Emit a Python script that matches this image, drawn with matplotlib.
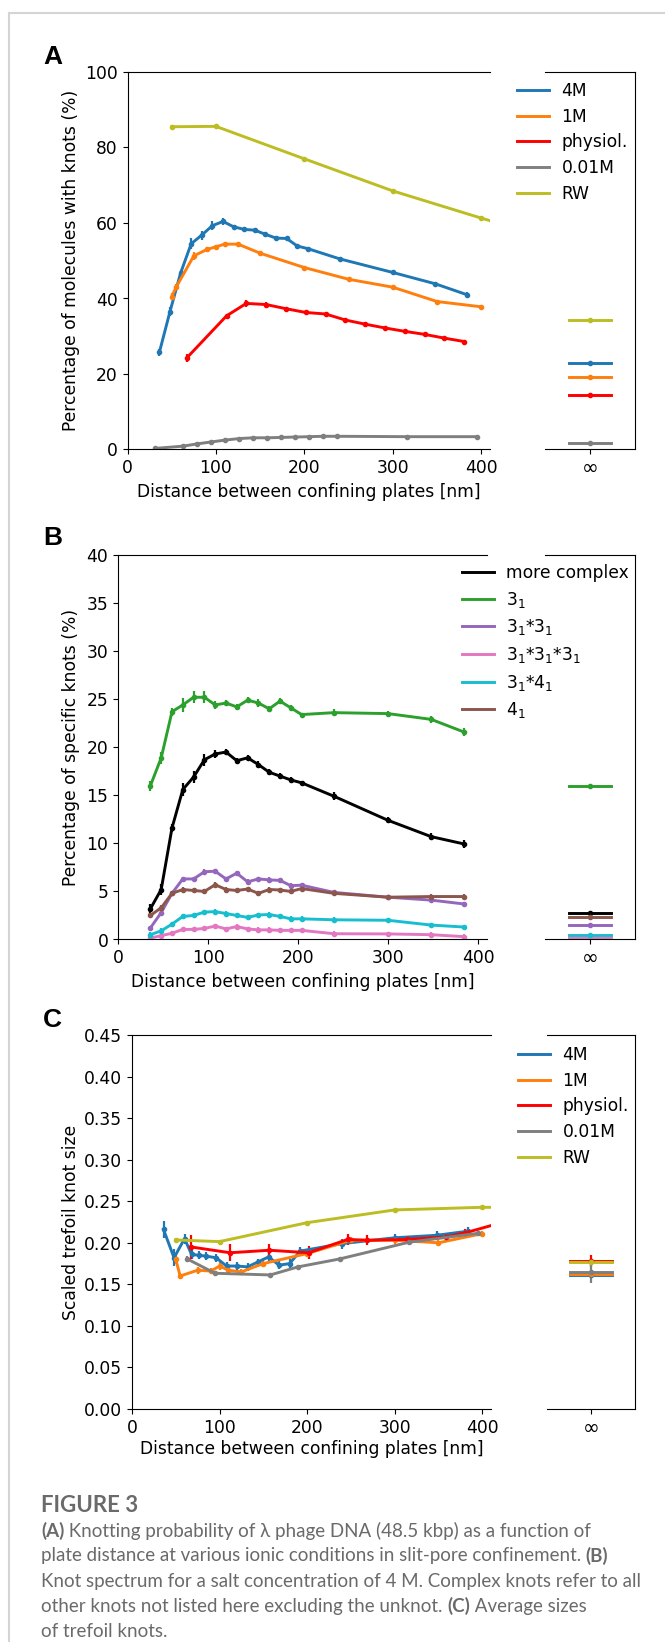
import numpy as np
import matplotlib.pyplot as plt
from matplotlib.lines import Line2D

W, H = 665, 1642

# ---------------- panel A: knotting probability ----------------
a_4m_x = [36, 48, 60, 72, 84, 96, 108, 120, 132, 144, 156, 168, 180, 192, 204, 240, 300, 348, 384]
a_4m_y = [25.7, 36.5, 46.7, 54.5, 56.8, 59.3, 60.4, 59.0, 58.3, 58.1, 57.0, 56.0, 55.9, 53.9, 53.2, 50.5, 46.9, 43.9, 41.0]
a_4m_e = [0.8, 1.2, 0.9, 1.4, 1.2, 1.1, 1.0, 0.6, 0.5, 0.5, 0.5, 0.5, 0.5, 0.5, 0.4, 0.4, 0.4, 0.4, 0.6]
a_1m_x = [50, 55, 75, 90, 100, 110, 125, 150, 200, 250, 300, 350, 400]
a_1m_y = [40.5, 43.0, 51.3, 53.0, 53.7, 54.4, 54.4, 52.0, 48.2, 45.1, 43.0, 39.2, 37.8]
a_1m_e = [1.0, 0.8, 1.0, 0.6, 0.6, 0.5, 0.5, 0.5, 0.4, 0.4, 0.4, 0.4, 0.4]
a_ph_x = [67.2, 112, 134.4, 156.8, 179.2, 201.6, 224, 246.4, 268.8, 291.2, 313.6, 336, 358.4, 380.8]
a_ph_y = [24.3, 35.4, 38.7, 38.4, 37.3, 36.3, 35.9, 34.3, 33.2, 32.2, 31.3, 30.5, 29.5, 28.6]
a_ph_e = [1.0, 0.6, 0.9, 0.7, 0.5, 0.5, 0.5, 0.5, 0.5, 0.4, 0.4, 0.4, 0.4, 0.4]
a_lo_x = [31.6, 63.2, 79, 94.8, 110.6, 126.4, 142.2, 158, 173.8, 189.6, 205.4, 221.2, 237, 316, 395]
a_lo_y = [0.3, 0.9, 1.5, 2.0, 2.5, 2.9, 3.1, 3.1, 3.2, 3.3, 3.4, 3.5, 3.5, 3.4, 3.4]
a_lo_e = [0.2] * 15
a_rw_x = [50, 100, 200, 300, 400, 500]
a_rw_y = [85.5, 85.6, 77.0, 68.5, 61.3, 54.5]
a_rw_e = [0.2] * 6
a_inf = [22.9, 19.3, 14.5, 1.6, 34.2]
a_inf_e = [0.4, 0.4, 0.4, 0.3, 0.4]

salt_labels = ['4M', '1M', 'physiol.', '0.01M', 'RW']
salt_colors = ['#1f77b4', '#ff7f0e', 'red', '#7f7f7f', '#bcbd22']

# ---------------- panel B: knot spectrum (4 M) ----------------
b_x = [36, 48, 60, 72, 84, 96, 108, 120, 132, 144, 156, 168, 180, 192, 204, 240, 300, 348, 384]
b_complex = [3.2, 5.2, 11.6, 15.6, 16.9, 18.7, 19.3, 19.5, 18.6, 18.9, 18.2, 17.4, 17.0, 16.6, 16.3, 14.9, 12.4, 10.7, 9.95]
b_31 = [16.0, 18.9, 23.7, 24.4, 25.2, 25.2, 24.4, 24.6, 24.2, 24.9, 24.6, 24.0, 24.8, 24.1, 23.4, 23.6, 23.5, 22.9, 21.6]
b_3131 = [1.2, 2.8, 4.8, 6.3, 6.3, 7.05, 7.1, 6.3, 6.9, 6.0, 6.3, 6.2, 6.15, 5.6, 5.65, 4.9, 4.4, 4.1, 3.7]
b_313131 = [0.15, 0.4, 0.65, 1.05, 1.05, 1.15, 1.4, 1.1, 1.35, 1.1, 1.0, 1.0, 0.95, 0.95, 0.95, 0.6, 0.58, 0.5, 0.3]
b_3141 = [0.5, 0.9, 1.6, 2.4, 2.5, 2.85, 2.9, 2.7, 2.5, 2.3, 2.55, 2.6, 2.4, 2.15, 2.15, 2.05, 2.0, 1.5, 1.3]
b_41 = [2.5, 3.3, 4.8, 5.2, 5.1, 5.0, 5.7, 5.2, 5.1, 5.25, 4.8, 5.2, 5.15, 5.0, 5.3, 4.8, 4.4, 4.47, 4.47]
b_err_big = [0.5, 0.6, 0.4, 0.7, 0.6, 0.6, 0.4, 0.3, 0.3, 0.3, 0.4, 0.3, 0.3, 0.3, 0.2, 0.4, 0.3, 0.4, 0.4]
b_err_small = [0.25] * 19
b_inf = [2.76, 16.0, 1.55, 0.2, 0.45, 2.33]
b_inf_e = [0.2, 0.2, 0.1, 0.05, 0.1, 0.1]
knot_labels = ['more complex', '$3_1$', '$3_1$*$3_1$', '$3_1$*$3_1$*$3_1$', '$3_1$*$4_1$', '$4_1$']
knot_colors = ['black', '#2ca02c', '#9467bd', '#e377c2', '#17becf', '#8c564b']

# ---------------- panel C: trefoil size ----------------
c_4m_x = [36, 48, 60, 68, 76, 84, 96, 108, 120, 132, 144, 156, 168, 180, 192, 240, 300, 348, 384]
c_4m_y = [0.216, 0.182, 0.205, 0.186, 0.185, 0.184, 0.182, 0.172, 0.172, 0.171, 0.177, 0.183, 0.173, 0.175, 0.190, 0.199, 0.206, 0.209, 0.214]
c_4m_e = [0.010, 0.010, 0.006, 0.005, 0.005, 0.005, 0.005, 0.005, 0.005, 0.005, 0.004, 0.005, 0.005, 0.005, 0.005, 0.006, 0.005, 0.005, 0.005]
c_1m_x = [50, 55, 75, 90, 100, 110, 125, 150, 200, 250, 300, 350, 400]
c_1m_y = [0.180, 0.160, 0.167, 0.166, 0.172, 0.167, 0.165, 0.175, 0.187, 0.203, 0.203, 0.200, 0.211]
c_1m_e = [0.006, 0.004, 0.004, 0.004, 0.005, 0.004, 0.004, 0.004, 0.004, 0.004, 0.004, 0.004, 0.003]
c_ph_x = [67.2, 112, 156.8, 201.6, 246.4, 268.8, 313.6, 358.4, 380.8, 448]
c_ph_y = [0.195, 0.188, 0.191, 0.188, 0.204, 0.203, 0.204, 0.207, 0.212, 0.232]
c_ph_e = [0.014, 0.010, 0.008, 0.008, 0.007, 0.006, 0.004, 0.004, 0.004, 0.004]
c_lo_x = [63.2, 94.8, 158, 189.6, 237, 316, 395]
c_lo_y = [0.1805, 0.1633, 0.1613, 0.171, 0.1805, 0.2006, 0.2114]
c_lo_e = [0.004, 0.002, 0.002, 0.002, 0.002, 0.003, 0.003]
c_rw_x = [50, 100, 200, 300, 400, 500]
c_rw_y = [0.2034, 0.2014, 0.2242, 0.2395, 0.2427, 0.2420]
c_rw_e = [0.001] * 6
c_inf = [0.161, 0.162, 0.178, 0.1645, 0.177]
c_inf_e = [0.003, 0.002, 0.007, 0.013, 0.002]

xlabel = 'Distance between confining plates [nm]'
caption = [
    [('(A)', True), (' Knotting probability of \u03bb phage DNA (48.5 kbp) as a function of', False)],
    [('plate distance at various ionic conditions in slit-pore confinement. ', False), ('(B)', True)],
    [('Knot spectrum for a salt concentration of 4 M. Complex knots refer to all', False)],
    [('other knots not listed here excluding the unknot. ', False), ('(C)', True), (' Average sizes', False)],
    [('of trefoil knots.', False)],
]

plt.rcParams['font.size'] = 12.3
plt.rcParams['font.family'] = 'DejaVu Sans'

fig = plt.figure(figsize=(W / 100, H / 100), dpi=100)


def box(l, r, t, b):
    return fig.add_axes([l / W, 1 - b / H, (r - l) / W, (b - t) / H])


def panel(l, r, top, bottom, rl, rr):
    ax = box(l, r, top, bottom)
    axr = box(rl, rr, top, bottom)
    ax.spines['right'].set_visible(False)
    axr.spines['left'].set_visible(False)
    axr.set_yticks([])
    axr.set_xlim(-1, 1)
    axr.set_xticks([0])
    axr.set_xticklabels(['\u221e'], fontsize=14.5)
    ax.set_xlim(0, 410)
    ax.set_xticks([0, 100, 200, 300, 400])
    # y label centred at x ~ 70 px
    ax.yaxis.set_label_coords((80 - l) / (r - l), 0.5)
    return ax, axr


def series(ax, axr, x, y, e, inf, inf_e, c):
    ax.errorbar(x, y, yerr=e, color=c, marker='.', ms=6, lw=2.1, elinewidth=1.6, capsize=0)
    axr.plot([-0.47, 0.47], [inf, inf], color=c, lw=2.1)
    axr.errorbar([0], [inf], yerr=[inf_e], color=c, marker='.', ms=6, elinewidth=1.6, capsize=0)


# panel A
axA, axAr = panel(127.5, 490, 72, 449.5, 545, 635)
for x, y, e, inf, ie, c in zip([a_4m_x, a_1m_x, a_ph_x, a_lo_x, a_rw_x],
                               [a_4m_y, a_1m_y, a_ph_y, a_lo_y, a_rw_y],
                               [a_4m_e, a_1m_e, a_ph_e, a_lo_e, a_rw_e],
                               a_inf, a_inf_e, salt_colors):
    series(axA, axAr, x, y, e, inf, ie, c)
axA.set_ylim(0, 100)
axAr.set_ylim(0, 100)
axA.set_ylabel('Percentage of molecules with knots (%)')
axA.set_xlabel(xlabel)

# panel B
axB, axBr = panel(118, 487, 555, 939.5, 545, 635)
b_series = [b_complex, b_31, b_3131, b_313131, b_3141, b_41]
b_errs = [b_err_big, b_err_big, b_err_small, b_err_small, b_err_small, b_err_small]
for y, e, inf, ie, c in zip(b_series, b_errs, b_inf, b_inf_e, knot_colors):
    series(axB, axBr, b_x, y, e, inf, ie, c)
axB.set_ylim(0, 40)
axBr.set_ylim(0, 40)
axB.set_ylabel('Percentage of specific knots (%)')
axB.set_xlabel(xlabel)

# panel C
axC, axCr = panel(132, 491, 1035, 1409, 547, 635)
for x, y, e, inf, ie, c in zip([c_4m_x, c_1m_x, c_ph_x, c_lo_x, c_rw_x],
                               [c_4m_y, c_1m_y, c_ph_y, c_lo_y, c_rw_y],
                               [c_4m_e, c_1m_e, c_ph_e, c_lo_e, c_rw_e],
                               c_inf, c_inf_e, salt_colors):
    series(axC, axCr, x, y, e, inf, ie, c)
axC.set_ylim(0, 0.45)
axCr.set_ylim(0, 0.45)
axC.set_yticks(np.arange(0, 0.46, 0.05))
axC.set_yticklabels(['%.2f' % v for v in np.arange(0, 0.46, 0.05)])
axC.set_ylabel('Scaled trefoil knot size')
axC.set_xlabel(xlabel, labelpad=2)


# legends
def legend(labels, colors, x, y):
    handles = [Line2D([], [], color=c, lw=2.1) for c in colors]
    fig.legend(handles, labels, loc='upper left', bbox_to_anchor=(x / W, 1 - y / H),
               frameon=False, borderpad=0, borderaxespad=0, handlelength=1.85,
               handletextpad=0.75, labelspacing=0.45)


legend(salt_labels, salt_colors, 517, 82)
legend(knot_labels, knot_colors, 462, 564)
legend(salt_labels, salt_colors, 518, 1046)

# panel letters
for s, yy in (('A', 57), ('B', 538), ('C', 1020)):
    fig.text(43 / W, 1 - yy / H, s, fontsize=19, fontweight='bold', family='Liberation Sans', va='center')

# journal frame
fig.add_artist(Line2D([9 / W, 9 / W], [0, 1 - 13 / H], color='#d4d4d4', lw=1.5))
fig.add_artist(Line2D([9 / W, 1], [1 - 13 / H, 1 - 13 / H], color='#d4d4d4', lw=1.5))

# caption
cap_color = '#6a6a6a'
fig.text(41 / W, 1 - 1503 / H, 'FIGURE 3', fontsize=16, color=cap_color, family=['Lato', 'DejaVu Sans'],
         fontweight='bold', va='center_baseline')
renderer = fig.canvas.get_renderer()
for i, line in enumerate(caption):
    xpos = 41
    ypos = 1529 + i * 25.3
    for txt, bold in line:
        t = fig.text(xpos / W, 1 - ypos / H, txt, fontsize=13.5, color=cap_color,
                     family=['Lato', 'DejaVu Sans'], fontweight='bold' if bold else 'normal',
                     va='center_baseline')
        xpos += t.get_window_extent(renderer).width

fig.savefig('out.png', dpi=100)
